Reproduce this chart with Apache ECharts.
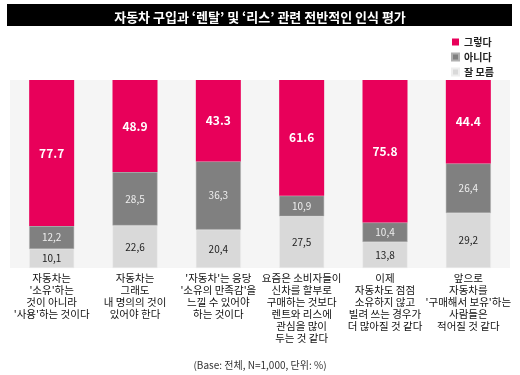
<!DOCTYPE html>
<html>
<head>
<meta charset="utf-8">
<script src="https://cdn.jsdelivr.net/npm/echarts@6/dist/echarts.min.js"></script>
<style>
  html, body { margin: 0; padding: 0; background: #fff; }
  #chart { width: 520px; height: 375px; }
</style>
</head>
<body>
<div id="chart"></div>
<script>
// 항목
var categories = [
  '자동차는\n\'소유\'하는\n것이 아니라\n\'사용\'하는 것이다',
  '자동차는\n그래도\n내 명의의 것이\n있어야 한다',
  '\'자동차\'는 응당\n\'소유의 만족감\'을\n느낄 수 있어야\n하는 것이다',
  '요즘은 소비자들이\n신차를 할부로\n구매하는 것보다\n렌트와 리스에\n관심을 많이\n두는 것 같다',
  '이제\n자동차도 점점\n소유하지 않고\n빌려 쓰는 경우가\n더 많아질 것 같다',
  '앞으로\n자동차를\n\'구매해서 보유\'하는\n사람들은\n적어질 것 같다'
];
var seriesNames = ['그렇다', '아니다', '잘 모름'];
var yesData = [77.7, 48.9, 43.3, 61.6, 75.8, 44.4];
var noData = [12.2, 28.5, 36.3, 10.9, 10.4, 26.4];
var unknownData = [10.1, 22.6, 20.4, 27.5, 13.8, 29.2];
var colors = ['#e8005a', '#808080', '#d9d9d9'];

var FONT = '"Noto Sans CJK KR", "Noto Sans", sans-serif';
var chart = echarts.init(document.getElementById('chart'));

function commaFmt (p) {
  return p.value.toFixed(1).replace('.', ',');
}

var option = {
  backgroundColor: '#fff',
  animation: false,
  textStyle: { fontFamily: FONT },
  graphic: [{
    type: 'rect',
    left: 7, top: 4,
    shape: { width: 505, height: 22 },
    style: { fill: '#000' },
    z: 0
  }],
  title: [{
    text: '자동차 구입과 ‘렌탈’ 및 ‘리스’ 관련 전반적인 인식 평가',
    left: 'center', top: 6,
    textStyle: { color: '#fff', fontSize: 13, fontWeight: 'bold', fontFamily: FONT }
  }, {
    text: '(Base: 전체, N=1,000, 단위: %)',
    left: 'center', top: 355,
    textStyle: { color: '#333', fontSize: 10, fontWeight: 'normal', fontFamily: FONT }
  }],
  legend: {
    orient: 'vertical',
    left: 446, top: 32,
    itemWidth: 7, itemHeight: 7, itemGap: 5,
    icon: 'rect',
    data: [
      { name: seriesNames[0], itemStyle: { color: colors[0] } },
      { name: seriesNames[1], itemStyle: { color: colors[1] } },
      { name: seriesNames[2], itemStyle: { color: colors[2] } }
    ],
    textStyle: { fontSize: 10, color: '#222', fontFamily: FONT, fontWeight: 'bold' }
  },
  grid: {
    left: 10, right: 10, top: 80, bottom: 107,
    show: true, backgroundColor: '#f5f5f5', borderWidth: 0
  },
  xAxis: {
    type: 'category',
    data: categories,
    axisLine: { show: false },
    axisTick: { show: false },
    axisLabel: {
      interval: 0, margin: 4,
      fontSize: 10.5, lineHeight: 12, color: '#111',
      fontFamily: FONT
    }
  },
  yAxis: {
    type: 'value', min: 0, max: 100, show: false,
    splitLine: { show: false }
  },
  series: [{
    name: seriesNames[2], type: 'bar', stack: 'all', barWidth: 45,
    data: unknownData,
    itemStyle: { color: colors[2], borderColor: '#eeeeee', borderWidth: 0.5 },
    label: { show: true, position: 'inside', color: '#222', fontSize: 10, formatter: commaFmt }
  }, {
    name: seriesNames[1], type: 'bar', stack: 'all', barWidth: 45,
    data: noData,
    itemStyle: { color: colors[1], borderColor: '#b0b0b0', borderWidth: 0.5 },
    label: { show: true, position: 'inside', color: '#eee', fontSize: 10, formatter: commaFmt }
  }, {
    name: seriesNames[0], type: 'bar', stack: 'all', barWidth: 45,
    data: yesData,
    itemStyle: { color: colors[0] },
    label: {
      show: true, position: 'inside', color: '#fff', fontSize: 12, fontWeight: 'bold',
      formatter: function (p) { return p.value.toFixed(1); }
    }
  }]
};
chart.setOption(option);
</script>
</body>
</html>
